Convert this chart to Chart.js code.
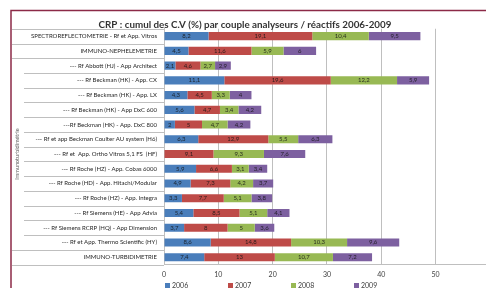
<!DOCTYPE html>
<html>
<head>
<meta charset="utf-8">
<script src="https://cdn.jsdelivr.net/npm/chart.js@4.4.0/dist/chart.umd.min.js"></script>
<style>
html,body{margin:0;padding:0;background:#fff;overflow:hidden;width:486px;height:288px;}
canvas{display:block;}
</style>
</head>
<body>
<canvas id="c" width="500" height="288"></canvas>
<script>
const categories = [
  "SPECTROREFLECTOMETRIE - Rf et App. Vitros",
  "IMMUNO-NEPHELEMETRIE",
  "--- Rf Abbott (HJ) - App Architect",
  "--- Rf Beckman (HK) - App. CX",
  "--- Rf Beckman (HK) - App. LX",
  "--- Rf Beckman (HK) - App DxC 600",
  "---Rf Beckman (HK) - App. DxC 800",
  "--- Rf et app Beckman Coulter AU system (H6)",
  "--- Rf et  App. Ortho Vitros 5,1 FS  (HF)",
  "--- Rf Roche (HZ) - App. Cobas 6000",
  "--- Rf Roche (HD) - App. Hitachi/Modular",
  "--- Rf Roche (HZ) - App. Integra",
  "--- Rf Siemens (HE) - App Advia",
  "--- Rf Siemens RCRP (HQ) - App Dimension",
  "--- Rf et App. Thermo Scientific (HY)",
  "IMMUNO-TURBIDIMETRIE"
];
const seriesNames = ["2006", "2007", "2008", "2009"];
const v2006 = [8.2, 4.5, 2.1, 11.1, 4.3, 5.6, 2, 6.3, null, 5.9, 4.9, 3.3, 5.4, 3.7, 8.6, 7.4];
const v2007 = [19.1, 11.6, 4.6, 19.6, 4.5, 4.7, 5, 12.9, 9.1, 6.6, 7.3, 7.7, 8.5, 8, 14.8, 13];
const v2008 = [10.4, 5.9, 2.7, 12.2, 3.3, 3.4, 4.7, 5.5, 9.3, 3.1, 4.2, 5.1, 5.1, 5, 10.3, 10.7];
const v2009 = [9.5, 6, 2.9, 5.9, 4, 4.2, 4.2, 6.3, 7.6, 3.4, 3.7, 3.8, 4.1, 3.6, 9.6, 7.2];
const xTicks = [0, 10, 20, 30, 40, 50, 60];
const groupLabel = "Immunoturbidimétrie";
const titleText = "CRP : cumul des C.V (%) par couple analyseurs / réactifs 2006-2009";

const colors = ["#4A7EBB", "#BE4B48", "#98B954", "#7D60A0"];
const FONT = "Lato, 'Open Sans', sans-serif";
const allSeries = [v2006, v2007, v2008, v2009];

const labelPlugin = {
  id: 'segLabels',
  afterDatasetsDraw(chart) {
    const ctx = chart.ctx;
    ctx.save();
    ctx.font = "6px " + FONT;
    ctx.textAlign = "center";
    ctx.textBaseline = "middle";
    ctx.fillStyle = "rgba(20,20,20,0.85)";
    chart.data.datasets.forEach((ds, di) => {
      const meta = chart.getDatasetMeta(di);
      meta.data.forEach((el, i) => {
        const v = ds.data[i];
        if (v === null || v === undefined) return;
        const cx = (el.x + el.base) / 2;
        ctx.fillText(String(v).replace('.', ','), cx, el.y);
      });
    });
    ctx.restore();
  }
};

const decoPlugin = {
  id: 'deco',
  afterDraw(chart) {
    const ctx = chart.ctx;
    const ys = chart.scales.y;
    const area = chart.chartArea;
    ctx.save();
    ctx.strokeStyle = "#BFBFBF";
    ctx.lineWidth = 1;
    const n = categories.length;
    for (let b = 0; b <= n; b++) {
      let y;
      if (b === 0) y = area.top;
      else if (b === n) y = area.bottom;
      else y = (ys.getPixelForValue(b - 1) + ys.getPixelForValue(b)) / 2;
      const full = (b <= 2 || b >= n - 1);
      const x1 = full ? 12 : 24;
      ctx.beginPath();
      ctx.moveTo(x1, Math.round(y) + 0.5);
      ctx.lineTo(area.left, Math.round(y) + 0.5);
      ctx.stroke();
    }
    const gTop = (ys.getPixelForValue(1) + ys.getPixelForValue(2)) / 2;
    const gBot = (ys.getPixelForValue(n - 2) + ys.getPixelForValue(n - 1)) / 2;
    ctx.translate(17, (gTop + gBot) / 2);
    ctx.rotate(-Math.PI / 2);
    ctx.font = "5.5px " + FONT;
    ctx.fillStyle = "#595959";
    ctx.textAlign = "center";
    ctx.textBaseline = "middle";
    ctx.fillText(groupLabel, 0, 0);
    ctx.setTransform(1, 0, 0, 1, 0, 0);
    ctx.strokeStyle = "#8C2A47";
    ctx.lineWidth = 1.5;
    ctx.beginPath();
    ctx.moveTo(11, 300);
    ctx.lineTo(11, 10.5);
    ctx.lineTo(520, 10.5);
    ctx.stroke();
    ctx.font = "7px " + FONT;
    ctx.textAlign = "left";
    ctx.textBaseline = "middle";
    const ly = 285.5;
    seriesNames.forEach((s, i) => {
      const lx = area.left + 1 + i * 63;
      ctx.fillStyle = colors[i];
      ctx.fillRect(lx, ly - 2.5, 5, 5);
      ctx.fillStyle = "#404040";
      ctx.fillText(s, lx + 7, ly);
    });
    ctx.restore();
  }
};

new Chart(document.getElementById('c'), {
  type: 'bar',
  data: {
    labels: categories,
    datasets: seriesNames.map((s, i) => ({
      label: s,
      data: allSeries[i],
      backgroundColor: colors[i],
      borderWidth: 0,
      categoryPercentage: 1,
      barPercentage: 0.55
    }))
  },
  options: {
    indexAxis: 'y',
    responsive: false,
    animation: false,
    layout: { padding: { left: 0, right: 10, top: 0, bottom: 3 } },
    plugins: {
      legend: { display: false },
      tooltip: { enabled: false },
      title: {
        display: true,
        text: titleText,
        color: "#333333",
        font: { family: FONT, size: 9.8 },
        padding: { top: 18.5, bottom: -1.5 }
      }
    },
    scales: {
      x: {
        stacked: true,
        min: 0, max: 60,
        afterBuildTicks(scale) { scale.ticks = xTicks.map(v => ({ value: v })); },
        grid: { color: "#BFBFBF", drawTicks: false, lineWidth: 1 },
        border: { display: true, color: "#BFBFBF" },
        ticks: { color: "#404040", font: { family: FONT, size: 7 }, padding: 6 }
      },
      y: {
        stacked: true,
        afterFit(scale) { scale.width = 164; },
        grid: { display: false, drawTicks: false },
        border: { display: true, color: "#BFBFBF" },
        ticks: { color: "#262626", font: { family: FONT, size: 6 }, padding: 7, autoSkip: false }
      }
    }
  },
  plugins: [labelPlugin, decoPlugin]
});
</script>
</body>
</html>
